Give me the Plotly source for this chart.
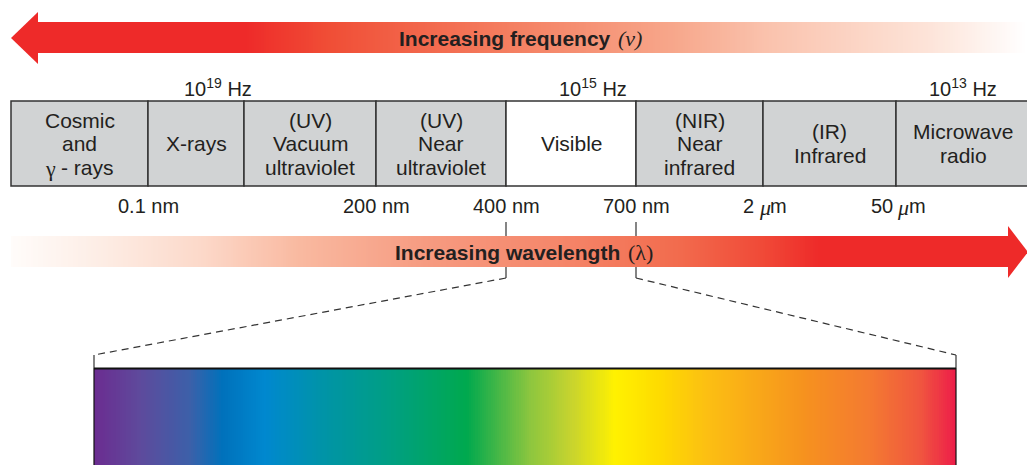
import numpy as np
import plotly.graph_objects as go

# spectral bands (left to right) and the scale positions of their borders
BAND_LABELS = [
    ["Cosmic", "and", "γ - rays"],
    ["X-rays"],
    ["(UV)", "Vacuum", "ultraviolet"],
    ["(UV)", "Near", "ultraviolet"],
    ["Visible"],
    ["(NIR)", "Near", "infrared"],
    ["(IR)", "Infrared"],
    ["Microwave", "radio"],
]
BAND_EDGES = [11, 148, 244, 376, 506, 636, 763, 896, 1030]

FREQ_LABELS = ["10<sup>19</sup> Hz", "10<sup>15</sup> Hz", "10<sup>13</sup> Hz"]
FREQ_POS = [218, 593, 963]

WAVE_LABELS = ["0.1 nm", "200 nm", "400 nm", "700 nm", "2 μm", "50 μm"]
WAVE_EDGE_IDX = [1, 3, 4, 5, 6, 7]
WAVE_POS = [BAND_EDGES[k] for k in WAVE_EDGE_IDX]

# visible spectrum colour stops (position along the expanded strip)
SPECTRUM_POS = [94, 140, 190, 222, 265, 325, 390, 467, 530, 572, 615, 660, 705, 803, 870, 920, 956]
SPECTRUM_COL = ["#6B2C90", "#5E4A9C", "#3C60A9", "#0071BB", "#0088CF", "#0094A6", "#009F83",
                "#00A94E", "#8CC63F", "#C8D42E", "#FFF100", "#FEDB00", "#FCC012", "#F6921E",
                "#F47A31", "#F0563F", "#ED1C49"]

# arrow shading stops
FREQ_ARROW_POS = [36, 245, 330, 500, 670, 770, 930, 1027]
FREQ_ARROW_COL = ["#EE2A29", "#EE2A29", "#F04E36", "#F47C5E", "#F7A68A", "#FAC3AE", "#FDE4D9", "#FFFFFF"]
WAVE_ARROW_POS = [11, 100, 200, 300, 430, 560, 680, 760, 820, 1010]
WAVE_ARROW_COL = ["#FFFCFA", "#FDEDE5", "#FCD9CA", "#F9B9A0", "#F69A80", "#F5866A", "#F26B4D",
                  "#F04B38", "#EE2A29", "#EE2A29"]

RED = "#EE2A29"
INK = "#231F20"
FONT = "Liberation Sans"
SERIF = "Liberation Serif"


def gradient(pos, cols, y0, y1, n=400):
    x0, x1 = pos[0], pos[-1]
    edges = np.linspace(x0, x1, n + 1)
    centers = (edges[:-1] + edges[1:]) / 2
    scale = [[(p - x0) / (x1 - x0), c] for p, c in zip(pos, cols)]
    return go.Heatmap(x=edges, y=[y0, y1], z=[centers], zmin=x0, zmax=x1,
                      colorscale=scale, showscale=False, hoverinfo="skip")


def note(x, y, text, size=21, family=FONT, anchor="center", **font):
    return dict(x=x, y=y, text=text, showarrow=False, xanchor=anchor,
                font=dict(size=size, color=INK, family=family, **font))


fig = go.Figure()

# top arrow: increasing frequency (points left)
fig.add_trace(gradient(FREQ_ARROW_POS, FREQ_ARROW_COL, 22, 53))
fig.add_trace(go.Scatter(x=[11, 38, 38, 11], y=[38, 12, 64, 38], fill="toself",
                         fillcolor=RED, mode="lines", line=dict(width=0), hoverinfo="skip"))

# bottom arrow: increasing wavelength (points right)
fig.add_trace(gradient(WAVE_ARROW_POS, WAVE_ARROW_COL, 236, 267))
fig.add_trace(go.Scatter(x=[1008, 1028, 1008, 1008], y=[226, 252, 278, 226], fill="toself",
                         fillcolor=RED, mode="lines", line=dict(width=0), hoverinfo="skip"))

# visible strip
fig.add_trace(gradient(SPECTRUM_POS, SPECTRUM_COL, 368, 470))

shapes = []
annotations = []

# band boxes and labels
for i, lines in enumerate(BAND_LABELS):
    x0, x1 = BAND_EDGES[i], BAND_EDGES[i + 1]
    fill = "white" if lines == ["Visible"] else "#D1D3D4"
    shapes.append(dict(type="rect", x0=x0, x1=x1, y0=101, y1=186, fillcolor=fill,
                       line=dict(color="#333333", width=1.5), layer="below"))
    cx = (x0 + x1) / 2
    n = len(lines)
    for j, t in enumerate(lines):
        y = 143.5 + (j - (n - 1) / 2) * 23.5
        if t.startswith("γ"):
            # serif gamma followed by the rest of the line
            annotations.append(note(cx - 29, y + 1, "γ", size=22, family=SERIF))
            annotations.append(note(cx - 21, y, t[1:].strip(), anchor="left"))
        else:
            annotations.append(note(cx, y, t))

for t, xp in zip(FREQ_LABELS, FREQ_POS):
    annotations.append(note(xp, 87, t, size=20))

DIGIT, SPACE, MU_W, M_W = 11.1, 5.6, 10.5, 16.7
for t, xp in zip(WAVE_LABELS, WAVE_POS):
    if "μ" in t:
        num = t.split(" ")[0]
        w = len(num) * DIGIT + SPACE + MU_W + M_W
        left = xp - w / 2
        annotations.append(note(left, 206, num, size=20, anchor="left"))
        mu_left = left + len(num) * DIGIT + SPACE
        annotations.append(note(mu_left - 1, 207, "μ", size=22, family=SERIF, anchor="left", style="italic"))
        annotations.append(note(mu_left + MU_W, 206, "m", size=20, anchor="left"))
    else:
        annotations.append(note(xp, 206, t, size=20))

annotations.append(note(613, 38, "Increasing frequency", anchor="right", weight="bold"))
annotations.append(note(616, 38, "(ν)", size=22, family=SERIF, anchor="left", style="italic"))
annotations.append(note(622, 252, "Increasing wavelength", anchor="right", weight="bold"))
annotations.append(note(626, 252, "(λ)", size=22, family=SERIF, anchor="left"))

# zoom lines from 400 nm / 700 nm down to the visible strip
line_c = dict(color="#333333", width=1.2)
for xs, xe in [(WAVE_POS[2], SPECTRUM_POS[0]), (WAVE_POS[3], SPECTRUM_POS[-1])]:
    shapes.append(dict(type="line", x0=xs, x1=xs, y0=222, y1=278, line=line_c, layer="below"))
    shapes.append(dict(type="line", x0=xs, x1=xe, y0=278, y1=355,
                       line=dict(color="#333333", width=1.2, dash="7px,5px")))
    shapes.append(dict(type="line", x0=xe, x1=xe, y0=355, y1=368, line=line_c))
    shapes.append(dict(type="line", x0=xe, x1=xe, y0=368, y1=470,
                       line=dict(color="#111111", width=1.2)))
shapes.append(dict(type="line", x0=SPECTRUM_POS[0], x1=SPECTRUM_POS[-1], y0=368.5, y1=368.5,
                   line=dict(color="#111111", width=2)))

fig.update_layout(
    width=1027, height=465, margin=dict(l=0, r=0, t=0, b=0),
    paper_bgcolor="white", plot_bgcolor="white", showlegend=False,
    xaxis=dict(range=[0, 1027], visible=False, fixedrange=True),
    yaxis=dict(range=[465, 0], visible=False, fixedrange=True),
    shapes=shapes, annotations=annotations,
)

fig.write_html("out.html", config={"displayModeBar": False},
               post_script="document.body.style.margin='0';")
